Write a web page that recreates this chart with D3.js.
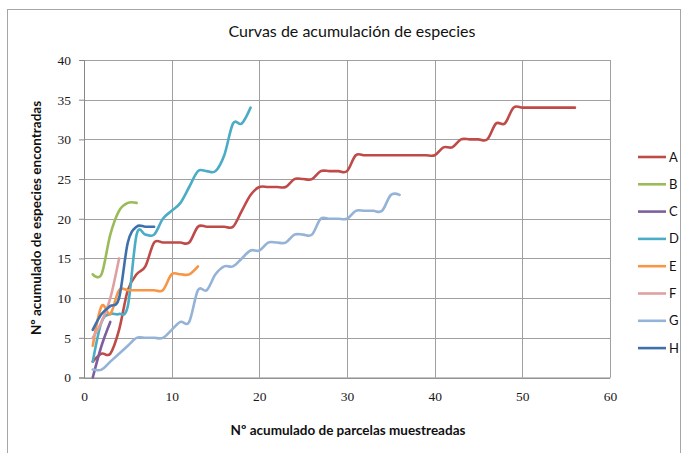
<!DOCTYPE html>
<html>
<head>
<meta charset="utf-8">
<script src="https://cdnjs.cloudflare.com/ajax/libs/d3/7.8.5/d3.min.js"></script>
<style>
  body { margin: 0; background: #fff; }
  svg { display: block; }
</style>
</head>
<body>
<svg></svg>
<script>
// species accumulation curves, one value per plot (parcela 1, 2, 3 ...)
const seriesNames = ["A", "B", "C", "D", "E", "F", "G", "H"]
const seriesColors = ["#BE4B48", "#9BBB59", "#7D5FA0", "#4BACC6", "#F79646", "#E0A0A0", "#95B3D7", "#3F70AE"]

const valuesA = [2,3,3,6,11,13,14,17,17,17,17,17,19,19,19,19,19,21,23,24,24,24,24,25,25,25,26,26,26,26,
                 28,28,28,28,28,28,28,28,28,28,29,29,30,30,30,30,32,32,34,34,34,34,34,34,34,34]
const valuesB = [13,13,18,21,22,22]
const valuesC = [0,4,7]
const valuesD = [2,7,8,8,9,18,18,18,20,21,22,24,26,26,26,28,32,32,34]
const valuesE = [4,9,8,11,11,11,11,11,11,13,13,13,14]
const valuesF = [5,7,10,15]
const valuesG = [1,1,2,3,4,5,5,5,5,6,7,7,11,11,13,14,14,15,16,16,17,17,17,18,18,18,20,20,20,20,21,21,21,21,23,23]
const valuesH = [6,8,9,10,17,19,19,19]

const xTicks = [0, 10, 20, 30, 40, 50, 60]
const yTicks = [0, 5, 10, 15, 20, 25, 30, 35, 40]

const svg = d3.select("svg").attr("width", 684).attr("height", 453),
  margin = {top: 60, right: 74, bottom: 75.5, left: 84},
  width = 684 - margin.left - margin.right,
  height = 453 - margin.top - margin.bottom,
  chart = svg.append("g").attr("transform", `translate(${margin.left},${margin.top})`)

const series = [valuesA, valuesB, valuesC, valuesD, valuesE, valuesF, valuesG, valuesH]
  .map((values, i) => ({name: seriesNames[i], color: seriesColors[i], points: values.map((v, j) => ({x: j + 1, y: v}))}))

const x = d3.scaleLinear().domain([0, 60]).range([0, width]),
      y = d3.scaleLinear().domain([0, 40]).range([height, 0]),
      line = d3.line().x(d => x(d.x)).y(d => y(d.y)).curve(d3.curveCardinal.tension(0))

const labelFont = "Lato, 'Open Sans', sans-serif"

// outer chart frame
svg.append("rect").attr("x", 7.5).attr("y", 9.5).attr("width", 673).attr("height", 450)
  .style("fill", "none").style("stroke", "#a6a6a6").style("stroke-width", 1)

// gridlines
chart.append("g").selectAll("line").data(yTicks).join("line")
  .attr("x1", 0).attr("x2", width).attr("y1", d => Math.round(y(d)) + 0.5).attr("y2", d => Math.round(y(d)) + 0.5)
  .style("stroke", "#a0a0a0").style("stroke-width", 1)
chart.append("g").selectAll("line").data(xTicks).join("line")
  .attr("y1", 0).attr("y2", height).attr("x1", d => Math.round(x(d)) + 0.5).attr("x2", d => Math.round(x(d)) + 0.5)
  .style("stroke", "#a0a0a0").style("stroke-width", 1)

const xAxis = chart.append("g").attr("transform", `translate(0,${height})`)
  .call(d3.axisBottom(x).tickValues(xTicks).tickSize(0).tickPadding(14))
const yAxis = chart.append("g")
  .call(d3.axisLeft(y).tickValues(yTicks).tickSize(5).tickPadding(8))
;[xAxis, yAxis].forEach(a => {
  a.select(".domain").style("stroke", "#888")
  a.selectAll(".tick line").style("stroke", "#888")
  a.selectAll("text").style("font-family", "'Liberation Serif', 'DejaVu Serif', serif").style("font-size", "13.5px").style("fill", "#1a1a1a")
})

chart.append("g").selectAll("path").data(series).join("path")
  .attr("d", d => line(d.points))
  .style("fill", "none").style("stroke", d => d.color).style("stroke-width", 2.6)
  .style("stroke-linejoin", "round").style("stroke-linecap", "round")

svg.append("text").text("Curvas de acumulación de especies").attr("x", 352).attr("y", 37)
  .style("text-anchor", "middle").style("font-family", labelFont).style("font-size", "16px").style("fill", "#111")

svg.append("text").text("Nº acumulado de parcelas muestreadas").attr("x", 348).attr("y", 435)
  .style("text-anchor", "middle").style("font-family", labelFont).style("font-weight", 700).style("font-size", "13.5px").style("fill", "#111")

svg.append("text").text("Nº acumulado de especies encontradas")
  .attr("transform", "translate(41,218) rotate(-90)")
  .style("text-anchor", "middle").style("font-family", labelFont).style("font-weight", 700).style("font-size", "13.5px").style("fill", "#111")

// legend
const legend = svg.append("g").selectAll("g").data(series).join("g")
  .attr("transform", (d, i) => `translate(638,${157 + i * 27.3})`)
legend.append("line").attr("x1", 0).attr("x2", 28).style("stroke", d => d.color).style("stroke-width", 2.6)
legend.append("text").text(d => d.name).attr("x", 31).attr("dy", "0.35em")
  .style("font-family", labelFont).style("font-size", "13px").style("fill", "#111")
</script>
</body>
</html>
